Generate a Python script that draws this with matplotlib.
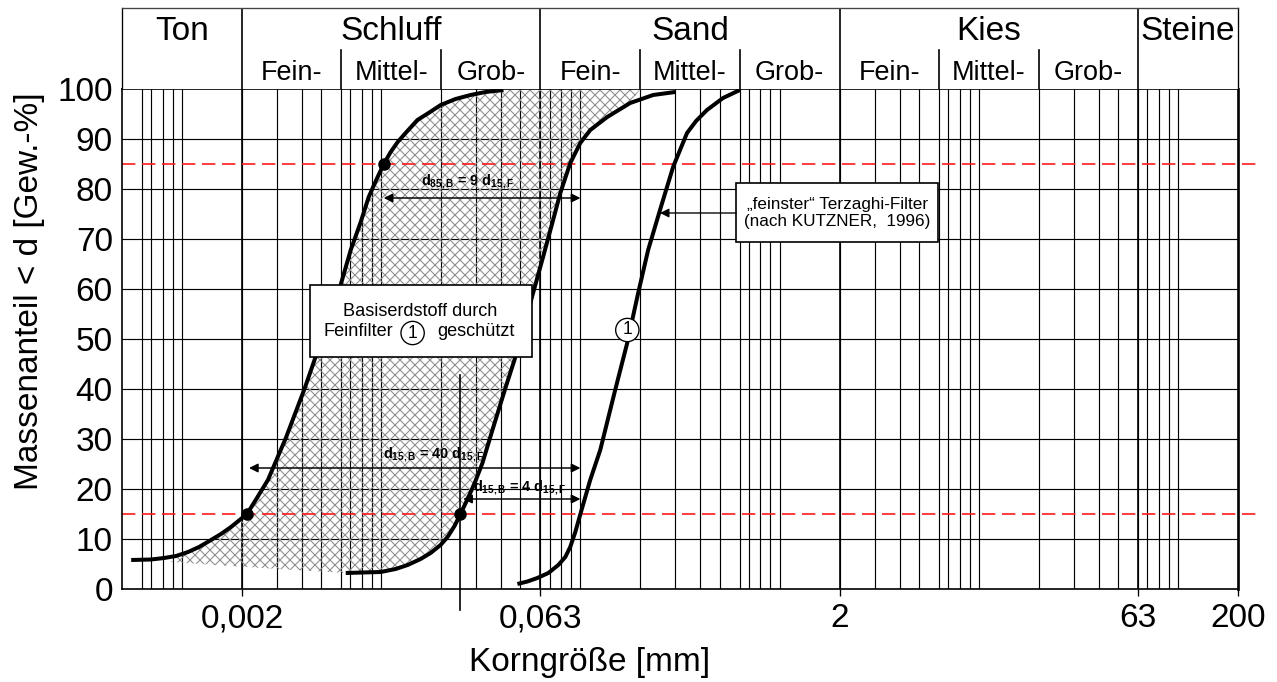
import matplotlib
matplotlib.use("Agg")
import matplotlib.pyplot as plt
from matplotlib.patches import Rectangle, Polygon
from matplotlib.ticker import NullLocator

plt.rcParams['font.family'] = ['Liberation Sans', 'DejaVu Sans']
plt.rcParams['mathtext.fontset'] = 'custom'
plt.rcParams['mathtext.rm'] = 'Liberation Sans'
plt.rcParams['mathtext.bf'] = 'Liberation Sans:bold'
plt.rcParams['hatch.linewidth'] = 0.65

# --- grain size distributions (grain size in mm, passing in %) ---
base_d = [0.000556, 0.0007, 0.000813, 0.000934, 0.001073, 0.001218, 0.001399,
          0.00157, 0.001762, 0.00212, 0.002378, 0.0027, 0.003322, 0.004137,
          0.005032, 0.006194, 0.007034, 0.007894, 0.008658, 0.009496, 0.0103,
          0.01116, 0.0121, 0.01326, 0.0152, 0.01729, 0.0199, 0.02362, 0.0281,
          0.0334, 0.0411]
base_pct = [5.8, 5.9, 6.2, 6.6, 7.4, 8.4, 9.8,
            11.0, 12.4, 15.0, 18.2, 21.8, 30.2, 40.2,
            50.0, 60.2, 67.8, 73.4, 78.4, 82.0, 85.0,
            87.4, 89.4, 91.2, 93.8, 95.2, 96.8, 98.0, 98.8,
            99.4, 99.8]

band_d = [0.006638, 0.008078, 0.009943, 0.01182, 0.01357, 0.01577, 0.0177,
          0.01986, 0.02154, 0.02334, 0.025, 0.02744, 0.02974, 0.03224,
          0.03618, 0.04204, 0.04718, 0.05234, 0.05806, 0.06516, 0.07228,
          0.07928, 0.08898, 0.09986, 0.1121, 0.1364, 0.1778, 0.2318, 0.2988]
band_pct = [3.2, 3.3, 3.4, 4.0, 4.8, 6.0, 7.2,
            8.8, 10.4, 12.6, 15.0, 18.4, 21.6, 25.2,
            31.8, 40.2, 46.4, 52.8, 59.4, 66.6, 73.2,
            79.2, 85.2, 89.2, 91.8, 94.4, 97.2, 98.8, 99.4]

# lower edge of the protected range
floor_d = [0.00088, 0.00176, 0.00303]
floor_pct = [5.4, 4.6, 4.0]

filter_d = [0.04829, 0.0542, 0.0608, 0.06904, 0.0775, 0.084, 0.0889, 0.0943,
            0.1, 0.112, 0.1258, 0.1495, 0.1718, 0.195, 0.2188, 0.251, 0.292,
            0.3164, 0.343, 0.3808, 0.432, 0.52, 0.632]
filter_pct = [1.0, 1.5, 2.2, 3.2, 4.8, 6.4, 8.4, 11.4,
              15.0, 21.8, 27.8, 39.8, 49.2, 59.2, 67.8, 75.8, 84.4,
              87.8, 91.2, 93.6, 95.8, 98.2, 99.8]

# characteristic grain sizes
d15_base = 0.00212
d85_base = 0.0103
d15_band = 0.025
d15_filter = 0.1

# --- axis scales and classification ---
x_min, x_max = 0.0005, 200
tick_vals = [0.002, 0.063, 2, 63, 200]
tick_labels = ['0,002', '0,063', '2', '63', '200']
grid_mults = [2, 3, 4, 5, 6.3, 7, 8, 9, 10]
main_bounds = [0.0005, 0.002, 0.063, 2, 63, 200]
main_names = ['Ton', 'Schluff', 'Sand', 'Kies', 'Steine']
sub_bounds = [0.002, 0.0063, 0.02, 0.063, 0.2, 0.63, 2, 6.3, 20, 63]
sub_names = ['Fein-', 'Mittel-', 'Grob-'] * 3

DPI = 120
W, H = 1277, 682
fig = plt.figure(figsize=(W / DPI, H / DPI), dpi=DPI)

left, right = 122 / W, 1238 / W
ax_bot, ax_top, hdr_top = 1 - 589 / H, 1 - 89 / H, 1 - 8 / H
ax = fig.add_axes([left, ax_bot, right - left, ax_top - ax_bot])
hdr = fig.add_axes([left, ax_top, right - left, hdr_top - ax_top])

for a in (ax, hdr):
    a.set_xscale('log')
    a.set_xlim(x_min, x_max)

# grid
grid_x = [m * 10.0 ** k for k in range(-4, 3) for m in grid_mults]
grid_x = [g for g in grid_x if x_min * 1.01 < g < x_max * 0.99]
for g in grid_x:
    ax.axvline(g, color='black', lw=0.7, zorder=1)
for b in main_bounds[1:-1]:
    ax.axvline(b, color='black', lw=1.0, zorder=1)
for yv in range(10, 100, 10):
    ax.axhline(yv, color='black', lw=0.7, zorder=1)

# hatched range between the two limiting curves
poly = list(zip(floor_d, floor_pct))
poly += list(zip(band_d[:-2], band_pct[:-2]))
poly += [(0.2, 100.0)]
poly += [(d, p) for d, p in zip(base_d[::-1], base_pct[::-1]) if d >= 0.00088]
ax.add_patch(Polygon(poly, closed=True, fill=False, hatch='xxxx',
                     edgecolor='#8f8f8f', lw=0, zorder=2))

# 15 % / 85 % reference lines
for yv in (15, 85):
    ax.plot([x_min, x_max * 1.25], [yv, yv], color='#ff1a1a', lw=1.0,
            dashes=(8, 4), clip_on=False, zorder=3)

# curves
curve_kw = dict(color='black', lw=2.4, solid_capstyle='butt',
                solid_joinstyle='round', zorder=5)
ax.plot(base_d, base_pct, **curve_kw)
ax.plot(band_d, band_pct, **curve_kw)
ax.plot(filter_d, filter_pct, **curve_kw)
ax.plot([d15_base, d85_base, d15_band], [15, 85, 15], 'o', color='black',
        ms=6.5, zorder=6)

# vertical marker at d15 of the coarse limit
ax.plot([d15_band, d15_band], [42.8, -4.2], color='black', lw=1.0,
        clip_on=False, zorder=6)

# dimension arrows
arrow_kw = dict(arrowstyle='<|-|>', color='black', lw=0.9,
                mutation_scale=11, shrinkA=0, shrinkB=0)
ax.annotate('', xy=(d15_filter, 78.2), xytext=(d85_base, 78.2),
            arrowprops=arrow_kw, zorder=4)
ax.annotate('', xy=(d15_filter, 24.2), xytext=(0.00217, 24.2),
            arrowprops=arrow_kw, zorder=4)
ax.annotate('', xy=(d15_filter, 18.0), xytext=(0.0258, 18.0),
            arrowprops=arrow_kw, zorder=4)

lab_kw = dict(ha='center', va='center', fontsize=8.6, fontweight='bold', zorder=4)
ax.text(0.0271, 81.4, r'd$_{\mathbf{85,B}}$ = 9 d$_{\mathbf{15,F}}$', **lab_kw)
ax.text(0.0183, 26.8, r'd$_{\mathbf{15,B}}$ = 40 d$_{\mathbf{15,F}}$', **lab_kw)
ax.text(0.0494, 20.2, r'd$_{\mathbf{15,B}}$ = 4 d$_{\mathbf{15,F}}$', **lab_kw)

# label boxes
ax.add_patch(Rectangle((0.00438, 46.4), 0.0569 - 0.00438, 60.8 - 46.4,
                       facecolor='white', edgecolor='black', lw=1.0, zorder=7))
ax.text(0.01577, 55.4, 'Basiserdstoff durch', ha='center', va='center',
        fontsize=10.9, zorder=8)
ax.text(0.01142, 51.4, 'Feinfilter', ha='right', va='center', fontsize=10.9, zorder=8)
ax.text(0.0192, 51.4, 'geschützt', ha='left', va='center', fontsize=10.9, zorder=8)
circ_kw = dict(ha='center', va='center', fontsize=10.5, zorder=9,
               bbox=dict(boxstyle='circle,pad=0.18', fc='white', ec='black', lw=0.8))
ax.text(0.01438, 51.2, '1', **circ_kw)
ax.text(0.172, 51.8, '1', **circ_kw)

ax.add_patch(Rectangle((0.605, 69.4), 6.26 - 0.605, 81.2 - 69.4,
                       facecolor='white', edgecolor='black', lw=1.0, zorder=7))
ax.text(1.946, 75.2, '\u201efeinster\u201c Terzaghi-Filter\n(nach KUTZNER,  1996)',
        ha='center', va='center', fontsize=10.3, linespacing=1.2, zorder=8)
ax.annotate('', xy=(0.251, 75.2), xytext=(0.605, 75.2),
            arrowprops=dict(arrowstyle='-|>', color='black', lw=0.8,
                            mutation_scale=11, shrinkA=0, shrinkB=0), zorder=7)

# axes styling
ax.set_ylim(0, 100)
ax.set_yticks(range(0, 101, 10))
ax.set_xticks(tick_vals)
ax.set_xticklabels(tick_labels)
ax.xaxis.set_minor_locator(NullLocator())
ax.tick_params(axis='y', length=0, pad=5.5, labelsize=20)
ax.tick_params(axis='x', length=4, width=0.8, pad=4.5, labelsize=20)
for s in ax.spines.values():
    s.set_linewidth(1.0)
    s.set_zorder(10)
ax.spines['right'].set_linewidth(1.6)

# classification header
hdr.set_ylim(0, 1)
hdr.set_xticks([])
hdr.set_yticks([])
hdr.xaxis.set_minor_locator(NullLocator())
hdr.spines['bottom'].set_visible(False)
for s in ('top', 'left', 'right'):
    hdr.spines[s].set_linewidth(0.8)
hdr.spines['top'].set_color('#444444')
row_split = 0.4815
for b in main_bounds[1:-1]:
    hdr.plot([b, b], [0, 1], color='black', lw=1.0)
for b in sub_bounds:
    if b not in main_bounds:
        hdr.plot([b, b], [0, row_split], color='black', lw=1.0)
for i, name in enumerate(main_names):
    xc = (main_bounds[i] * main_bounds[i + 1]) ** 0.5
    hdr.text(xc, 0.605, name, ha='center', va='baseline', fontsize=20)
for i, name in enumerate(sub_names):
    xc = (sub_bounds[i] * sub_bounds[i + 1]) ** 0.5
    hdr.text(xc, 0.111, name, ha='center', va='baseline', fontsize=16.2)

fig.text(590 / W, 1 - 663 / H, 'Korngröße [mm]', ha='center', va='center', fontsize=20)
fig.text(30 / W, 1 - 291 / H, 'Massenanteil < d [Gew.-%]', rotation=90,
         ha='center', va='center', fontsize=20)

fig.savefig('out.png', dpi=DPI)
